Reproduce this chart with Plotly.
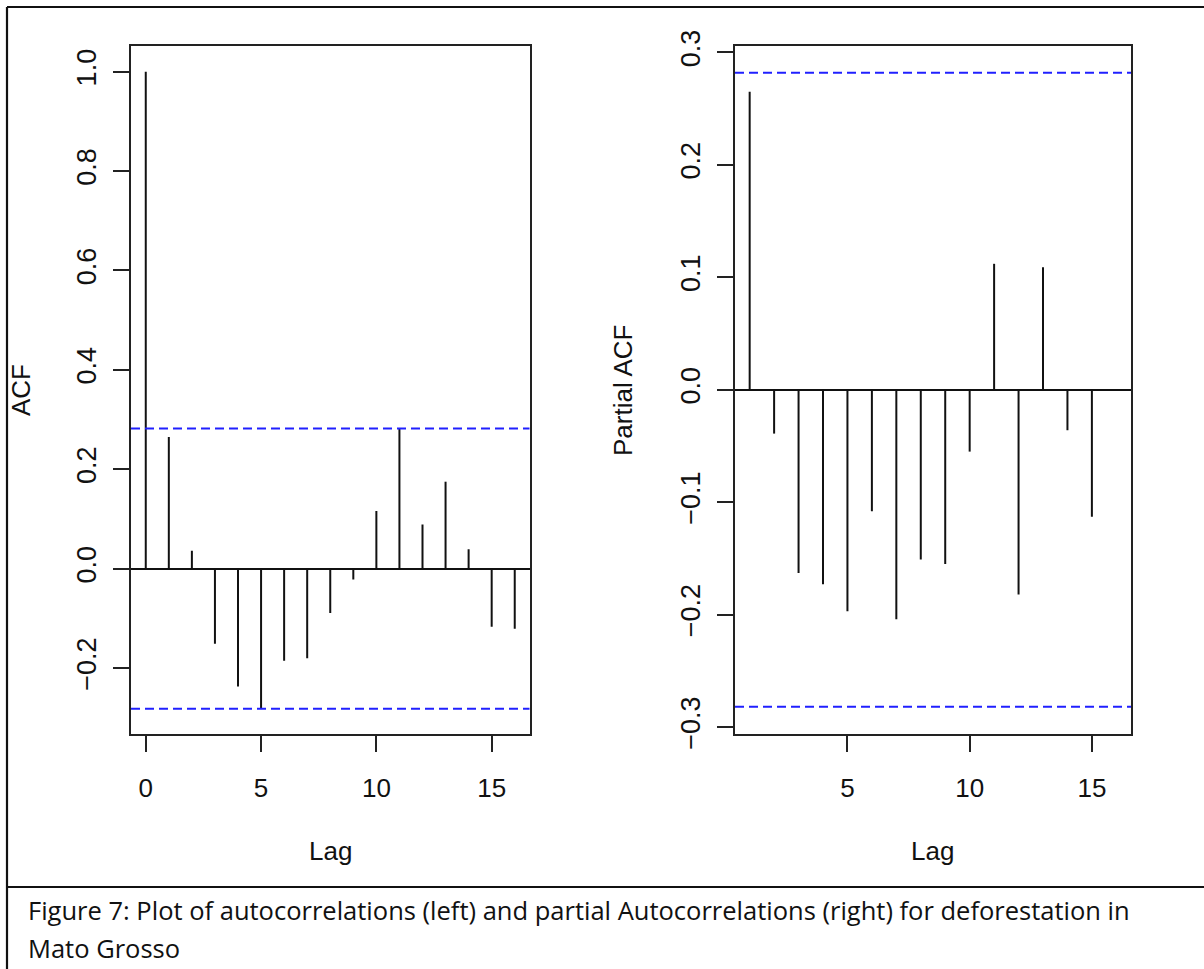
import plotly.graph_objects as go

# ---- data ----
acf_lags = list(range(0, 17))
acf_vals = [1.0, 0.265, 0.036, -0.151, -0.237, -0.281, -0.185, -0.180, -0.089,
            -0.022, 0.116, 0.281, 0.089, 0.175, 0.039, -0.117, -0.121]
pacf_lags = list(range(1, 16))
pacf_vals = [0.265, -0.039, -0.163, -0.173, -0.197, -0.108, -0.204, -0.151,
             -0.155, -0.055, 0.112, -0.182, 0.109, -0.036, -0.113]
clim = 0.282  # 95% confidence bound (2/sqrt(n))

acf_yticks = [-0.2, 0.0, 0.2, 0.4, 0.6, 0.8, 1.0]
pacf_yticks = [-0.3, -0.2, -0.1, 0.0, 0.1, 0.2, 0.3]
acf_xticks = [0, 5, 10, 15]
pacf_xticks = [5, 10, 15]

caption_1 = "Figure 7: Plot of autocorrelations (left) and partial Autocorrelations (right) for deforestation in"
caption_2 = "Mato Grosso"

W, H = 1204, 969


def px(x):
    return x / W


def py(y):
    return 1 - y / H


def stems(lags, vals):
    xs, ys = [], []
    for l, v in zip(lags, vals):
        xs += [l, l, None]
        ys += [0, v, None]
    return xs, ys


fig = go.Figure()

ax, ay = stems(acf_lags, acf_vals)
fig.add_trace(go.Scatter(x=ax, y=ay, mode="lines", xaxis="x", yaxis="y",
                         line=dict(color="#111", width=2), hoverinfo="skip"))
bx, by = stems(pacf_lags, pacf_vals)
fig.add_trace(go.Scatter(x=bx, y=by, mode="lines", xaxis="x2", yaxis="y2",
                         line=dict(color="#111", width=2), hoverinfo="skip"))

xtickfont = dict(family="Liberation Sans, Arial, sans-serif", size=26, color="#111")
ytickfont = dict(family="Liberation Sans, Arial, sans-serif", size=27, color="#111")
common_x = dict(showline=True, mirror=True, linecolor="#222", linewidth=1.8,
                ticks="outside", ticklen=17, tickwidth=1.8, tickcolor="#222",
                showgrid=False, zeroline=False, tickfont=xtickfont,
                ticklabelstandoff=13, fixedrange=True, automargin=False)
common_y = dict(showline=True, mirror=True, linecolor="#222", linewidth=1.8,
                ticks="outside", ticklen=16, tickwidth=1.8, tickcolor="#222",
                showgrid=False, zeroline=True, zerolinecolor="#111", zerolinewidth=2,
                tickfont=ytickfont, tickangle=-90, tickformat=".1f",
                ticklabelstandoff=6, fixedrange=True, automargin=False)

ydom = [py(733.5), py(46)]
fig.update_layout(
    width=W, height=H, margin=dict(l=0, r=0, t=0, b=0, pad=0, autoexpand=False),
    paper_bgcolor="white", plot_bgcolor="white", showlegend=False,
    xaxis=dict(common_x, domain=[px(131), px(529.5)], range=[-0.64, 16.64],
               tickvals=acf_xticks, anchor="y"),
    yaxis=dict(common_y, domain=ydom, range=[-0.3316, 1.0516],
               tickvals=acf_yticks, anchor="x"),
    xaxis2=dict(common_x, domain=[px(735), px(1131)], range=[0.4, 16.6],
                tickvals=pacf_xticks, anchor="y2"),
    yaxis2=dict(common_y, domain=ydom, range=[-0.3057, 0.3057],
                tickvals=pacf_yticks, anchor="x2"),
)

blue = "#2020ff"
for xr, yr in (("x", "y"), ("x2", "y2")):
    for sgn in (1, -1):
        fig.add_shape(type="line", xref=xr + " domain", yref=yr, x0=0, x1=1,
                      y0=sgn * clim, y1=sgn * clim,
                      line=dict(color=blue, width=2, dash="9px,5px"))

# outer frame and caption separator
frame = dict(color="#111", width=2.2)
fig.add_shape(type="line", xref="paper", yref="paper", x0=px(7), x1=1, y0=py(7), y1=py(7), line=frame)
fig.add_shape(type="line", xref="paper", yref="paper", x0=px(7), x1=px(7), y0=py(7), y1=0, line=frame)
fig.add_shape(type="line", xref="paper", yref="paper", x0=px(7), x1=1, y0=py(887), y1=py(887), line=frame)

labfont = dict(family="Liberation Sans, Arial, sans-serif", size=26, color="#111")
fig.add_annotation(text="ACF", x=px(21), y=py(390), xref="paper", yref="paper",
                   textangle=-90, showarrow=False, font=labfont, xanchor="center", yanchor="middle")
fig.add_annotation(text="Partial ACF", x=px(623), y=py(390), xref="paper", yref="paper",
                   textangle=-90, showarrow=False, font=labfont, xanchor="center", yanchor="middle")
fig.add_annotation(text="Lag", x=px(330), y=py(851), xref="paper", yref="paper",
                   showarrow=False, font=labfont, xanchor="center", yanchor="middle")
fig.add_annotation(text="Lag", x=px(932), y=py(851), xref="paper", yref="paper",
                   showarrow=False, font=labfont, xanchor="center", yanchor="middle")

capfont = dict(family="Open Sans, Noto Sans, sans-serif", size=25.5, color="#111")
fig.add_annotation(text=caption_1, x=px(26), y=py(910), xref="paper", yref="paper",
                   showarrow=False, font=capfont, xanchor="left", yanchor="middle")
fig.add_annotation(text=caption_2, x=px(26), y=py(948), xref="paper", yref="paper",
                   showarrow=False, font=capfont, xanchor="left", yanchor="middle")

fig.write_html("out.html")
